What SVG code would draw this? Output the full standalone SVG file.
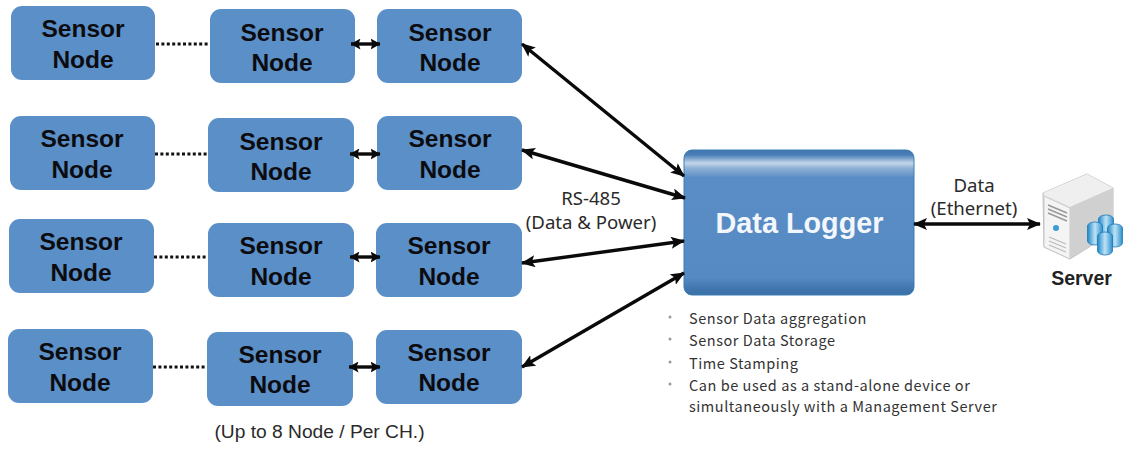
<svg xmlns="http://www.w3.org/2000/svg" width="1128" height="453" viewBox="0 0 1128 453">
<style>
.sn{fill:#5b8fc7}
.st{font:700 24.5px "Liberation Sans",Arial,sans-serif;fill:#0c0c10;text-anchor:middle}
.lb{font:18.6px "Noto Sans",sans-serif;fill:#2a2a2a;text-anchor:middle}
.bl{font:14.5px "Noto Sans CJK KR","Noto Sans",sans-serif;fill:#333;letter-spacing:.55px}
.dot{fill:#999}
.c{stroke:#0a0a0a;stroke-width:3.4;fill:none;marker-start:url(#a);marker-end:url(#a)}
.s{stroke:#0a0a0a;stroke-width:3.4;fill:none;marker-start:url(#b);marker-end:url(#b)}
.d{stroke:#111;stroke-width:3;stroke-dasharray:3 2.4;fill:none}
</style>
<defs>
<marker id="a" markerUnits="userSpaceOnUse" markerWidth="14" markerHeight="12" refX="13" refY="6" orient="auto-start-reverse"><path d="M0 0L14 6L0 12L3 6Z" fill="#0a0a0a"/></marker>
<marker id="b" markerUnits="userSpaceOnUse" markerWidth="10" markerHeight="11" refX="9.5" refY="5.5" orient="auto-start-reverse"><path d="M0 0L10 5.5L0 11L2 5.5Z" fill="#0a0a0a"/></marker>
<linearGradient id="g" x1="0" y1="0" x2="0" y2="1">
<stop offset="0" stop-color="#3f74ad"/><stop offset=".035" stop-color="#4a7fb8"/><stop offset=".09" stop-color="#c3d6ea"/><stop offset=".125" stop-color="#8fb1d6"/><stop offset=".19" stop-color="#5a8dc5"/><stop offset=".88" stop-color="#568ac3"/><stop offset=".96" stop-color="#3f74ac"/><stop offset="1" stop-color="#3b70a8"/>
</linearGradient>
<linearGradient id="srv" x1="0" y1="0" x2="1" y2="1"><stop offset="0" stop-color="#f2f2f2"/><stop offset="1" stop-color="#c9c9c9"/></linearGradient>
<linearGradient id="cy" x1="0" y1="0" x2="1" y2="0"><stop offset="0" stop-color="#1f86c8"/><stop offset=".5" stop-color="#bfe3f5"/><stop offset="1" stop-color="#2b8fcf"/></linearGradient>
<path id="cyl" d="M-7.5 -8a7.5 4 0 0 1 15 0v15a7.5 4 0 0 1-15 0Z" fill="url(#cy)" stroke="#1d78b8" stroke-width=".8"/>
</defs>
<rect width="1128" height="453" fill="#fff"/>
<g id="n1a"><rect class="sn" x="11" y="6" width="144" height="74" rx="11"/><text class="st" x="83" y="37">Sensor</text><text class="st" x="83" y="68">Node</text></g>
<g id="n1b"><rect class="sn" x="210" y="9" width="145" height="74" rx="11"/><text class="st" x="282" y="41">Sensor</text><text class="st" x="282" y="71">Node</text></g>
<g id="n1c"><rect class="sn" x="377" y="9" width="145" height="74" rx="11"/><text class="st" x="450" y="41">Sensor</text><text class="st" x="450" y="71">Node</text></g>
<g id="n2a"><rect class="sn" x="10" y="116" width="145" height="74" rx="11"/><text class="st" x="82" y="147">Sensor</text><text class="st" x="82" y="178">Node</text></g>
<g id="n2b"><rect class="sn" x="208" y="118" width="146" height="74" rx="11"/><text class="st" x="281" y="150">Sensor</text><text class="st" x="281" y="180">Node</text></g>
<g id="n2c"><rect class="sn" x="377" y="116" width="145" height="74" rx="11"/><text class="st" x="450" y="147">Sensor</text><text class="st" x="450" y="178">Node</text></g>
<g id="n3a"><rect class="sn" x="9" y="219" width="145" height="74" rx="11"/><text class="st" x="81" y="250">Sensor</text><text class="st" x="81" y="281">Node</text></g>
<g id="n3b"><rect class="sn" x="208" y="223" width="146" height="74" rx="11"/><text class="st" x="281" y="254">Sensor</text><text class="st" x="281" y="285">Node</text></g>
<g id="n3c"><rect class="sn" x="376" y="223" width="146" height="74" rx="11"/><text class="st" x="449" y="254">Sensor</text><text class="st" x="449" y="285">Node</text></g>
<g id="n4a"><rect class="sn" x="8" y="329" width="145" height="74" rx="11"/><text class="st" x="80" y="360">Sensor</text><text class="st" x="80" y="391">Node</text></g>
<g id="n4b"><rect class="sn" x="207" y="332" width="146" height="74" rx="11"/><text class="st" x="280" y="363">Sensor</text><text class="st" x="280" y="393">Node</text></g>
<g id="n4c"><rect class="sn" x="376" y="330" width="146" height="74" rx="11"/><text class="st" x="449" y="361">Sensor</text><text class="st" x="449" y="391">Node</text></g>
<g id="logger"><rect x="684" y="150" width="230" height="145" rx="8" fill="url(#g)" stroke="#3a7fb5" stroke-width="1"/><text x="799.500" y="233" text-anchor="middle" style="font:700 28.8px 'Liberation Sans',Arial,sans-serif;fill:#f3f7fb">Data Logger</text></g>
<g id="server">
<path d="M1043 193L1087 174L1113 188V232L1070 259L1044 247Z" fill="url(#srv)" stroke="#bbb"/>
<path d="M1043 193L1087 174L1113 188L1070 207Z" fill="#efefef"/>
<path d="M1044 196L1070 208L1070 259L1044 247Z" fill="#f4f4f4" stroke="#c8c8c8"/>
<path d="M1070 207L1113 188V232L1070 259Z" fill="#d0d0d0"/>
<path d="M1048 205L1067 213M1048 209L1067 217M1048 213L1067 221" stroke="#999" stroke-width="1.5"/>
<path d="M1049 237L1066 244M1049 241L1066 248M1049 245L1066 252" stroke="#bbb" stroke-width="1.2"/>
<circle cx="1056" cy="228" r="3" fill="#3d9ad6"/>
<use href="#cyl" x="1106" y="227"/>
<use href="#cyl" x="1095" y="234"/>
<use href="#cyl" x="1115" y="236"/>
<use href="#cyl" x="1105" y="244"/>
</g>
<g id="connectors">
<path class="d" d="M156 44H210"/>
<path class="d" d="M155 154H208"/>
<path class="d" d="M154 257H208"/>
<path class="d" d="M153 367H207"/>
<path class="s" d="M351 44H380"/>
<path class="s" d="M350 154H380"/>
<path class="s" d="M350 257H380"/>
<path class="s" d="M349 367H380"/>
<path class="c" d="M522 44L684 176"/>
<path class="c" d="M522 150L685 198"/>
<path class="c" d="M522 263L684 241"/>
<path class="c" d="M522 367L684 273"/>
<path class="c" d="M914 224H1040"/>
</g>
<g id="labels">
<text class="lb" x="591" y="205">RS-485</text>
<text class="lb" x="591" y="229">(Data &amp; Power)</text>
<text class="lb" x="974" y="192">Data</text>
<text class="lb" x="974" y="215">(Ethernet)</text>
<text x="1081.500" y="285" text-anchor="middle" style="font:700 19.5px 'Liberation Sans',Arial,sans-serif;fill:#222">Server</text>
<text x="319.500" y="438" text-anchor="middle" style="font:19.2px 'Liberation Sans',Arial,sans-serif;fill:#2a2a2a">(Up to 8 Node / Per CH.)</text>
<circle class="dot" cx="670" cy="317" r="1.5"/><circle class="dot" cx="670" cy="339" r="1.5"/><circle class="dot" cx="670" cy="362" r="1.5"/><circle class="dot" cx="670" cy="384" r="1.5"/>
<text class="bl" x="689" y="324">Sensor Data aggregation</text>
<text class="bl" x="689" y="346">Sensor Data Storage</text>
<text class="bl" x="689" y="369">Time Stamping</text>
<text class="bl" x="689" y="391">Can be used as a stand-alone device or</text>
<text class="bl" x="689" y="412">simultaneously with a Management Server</text>
</g>
</svg>
